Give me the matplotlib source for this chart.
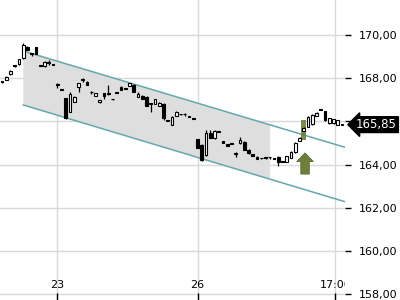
import matplotlib
matplotlib.use('Agg')
import matplotlib.pyplot as plt
from matplotlib.patches import Polygon, Rectangle, FancyArrow
import numpy as np

# candle data (one entry per interval)
opens = [167.82, 167.92, 168.18, 168.56, 168.64, 168.92, 169.46, 169.12, 169.43, 168.57,
         168.56, 168.72, 168.61, 167.69, 167.45, 167.07, 166.45, 166.91, 167.58, 167.92,
         167.84, 167.35, 167.18, 166.88, 167.30, 167.28, 167.02, 167.33, 167.61, 167.51,
         167.64, 167.69, 167.14, 167.18, 167.14, 166.81, 166.81, 166.73, 166.81, 166.03,
         165.83, 166.25, 166.33, 166.33, 166.22, 166.11, 165.17, 164.91, 164.44, 165.45,
         165.22, 165.52, 165.09, 164.95, 164.95, 164.48, 164.99, 165.06, 164.68, 164.49,
         164.37, 164.29, 164.32, 164.33, 164.26, 164.37, 164.13, 164.13, 164.32, 164.57,
         165.09, 165.57, 165.75, 165.87, 166.25, 166.53, 166.48, 165.91, 165.91, 165.83,
         165.85]
closes = [167.82, 168.06, 168.35, 168.56, 168.88, 169.54, 169.32, 169.12, 169.13, 168.57,
          168.76, 168.72, 168.61, 167.69, 167.45, 166.14, 167.27, 167.14, 167.76, 167.92,
          167.69, 167.35, 167.30, 166.99, 167.18, 167.28, 167.02, 167.33, 167.45, 167.51,
          167.76, 167.38, 167.25, 167.04, 166.73, 166.81, 167.02, 166.87, 166.14, 166.03,
          166.22, 166.45, 166.33, 166.33, 166.22, 166.11, 164.78, 164.21, 165.45, 165.25,
          165.57, 165.52, 165.01, 164.88, 164.95, 164.55, 165.14, 164.68, 164.52, 164.40,
          164.26, 164.29, 164.32, 164.33, 164.26, 164.13, 164.13, 164.40, 164.60, 165.01,
          165.25, 165.71, 166.22, 166.30, 166.40, 166.53, 166.06, 166.14, 166.10, 166.06,
          165.85]
highs = [167.84, 168.08, 168.37, 168.58, 168.90, 169.64, 169.48, 169.13, 169.45, 168.59,
         168.78, 168.84, 168.63, 167.76, 167.52, 167.09, 167.38, 167.16, 167.78, 168.00,
         167.86, 167.41, 167.32, 167.00, 167.32, 167.69, 167.04, 167.35, 167.63, 167.53,
         167.78, 167.71, 167.35, 167.20, 167.16, 166.84, 167.04, 166.89, 166.83, 166.05,
         166.24, 166.47, 166.35, 166.40, 166.24, 166.13, 165.19, 164.93, 165.60, 165.60,
         165.60, 165.54, 165.11, 164.97, 164.97, 164.57, 165.26, 165.08, 164.70, 164.51,
         164.39, 164.31, 164.34, 164.35, 164.28, 164.39, 164.15, 164.42, 164.62, 165.03,
         165.27, 165.75, 166.24, 166.32, 166.42, 166.55, 166.50, 166.16, 166.12, 166.08,
         165.87]
lows = [167.80, 167.90, 168.16, 168.54, 168.62, 168.90, 169.30, 169.03, 169.11, 168.55,
        168.54, 168.61, 168.59, 167.55, 167.45, 166.12, 166.43, 166.89, 167.38, 167.84,
        167.67, 167.25, 167.16, 166.86, 167.04, 167.22, 167.00, 167.31, 167.43, 167.49,
        167.62, 167.36, 167.12, 167.02, 166.71, 166.45, 166.79, 166.71, 166.05, 166.01,
        165.81, 166.23, 166.31, 166.26, 166.20, 166.09, 164.76, 164.15, 164.42, 165.23,
        165.20, 165.50, 164.99, 164.86, 164.93, 164.34, 164.97, 164.66, 164.50, 164.38,
        164.24, 164.27, 164.26, 164.27, 164.24, 163.94, 164.11, 164.11, 164.30, 164.55,
        165.07, 165.55, 165.73, 165.85, 166.23, 166.51, 166.04, 165.89, 165.89, 165.81,
        165.83]

# trend channel
chan_x = [5.0, 80.7]
chan_upper = [169.26, 164.80]
chan_lower = [166.76, 162.28]
shade_end = 63.1

# signal candle and arrow
signal_idx = 71
signal_top = 166.06
signal_bottom = 165.14
arrow_base = 163.56
arrow_tip = 164.54

last_price = 165.85
x_tick_pos = [13, 46, 78.4]
x_tick_labels = ['23', '26', '17:00']
y_ticks = [158, 160, 162, 164, 166, 168, 170]
# 166 label sits under the last price marker
y_tick_labels = ['158,00', '160,00', '162,00', '164,00', '', '168,00', '170,00']

fig = plt.figure(figsize=(4, 3), dpi=100)
ax = fig.add_axes([0, 0, 0.8625, 1.0])
ax.set_xlim(-0.47, 80.7)
ax.set_ylim(157.73, 171.62)

grid_col = '#d9d9d9'
for y in y_ticks:
    ax.axhline(y, color=grid_col, lw=1, zorder=0)
for x in x_tick_pos:
    ax.axvline(x, color=grid_col, lw=1, zorder=0)

# channel shade and lines
def chan_at(x, ys):
    return np.interp(x, chan_x, ys)

sx = [chan_x[0], shade_end, shade_end, chan_x[0]]
sy = [chan_upper[0], chan_at(shade_end, chan_upper), chan_at(shade_end, chan_lower), chan_lower[0]]
ax.add_patch(Polygon(list(zip(sx, sy)), closed=True, facecolor='#dedede', edgecolor='none', zorder=1))
ax.plot(chan_x, chan_upper, color='#63a8ab', lw=1.1, zorder=2)
ax.plot(chan_x, chan_lower, color='#63a8ab', lw=1.1, zorder=2)

olive = '#6e7f3c'
ax.add_patch(Rectangle((signal_idx - 0.6, signal_bottom), 1.2, signal_top - signal_bottom,
                       facecolor=olive, edgecolor='none', alpha=0.9, zorder=2))
ax.add_patch(FancyArrow(signal_idx + 0.3, arrow_base, 0, arrow_tip - arrow_base,
                        width=2.0, head_width=3.9, head_length=0.4,
                        length_includes_head=True, facecolor=olive, edgecolor='#5c6b30',
                        lw=0.6, zorder=3))

# candles
idx = np.arange(len(opens))
o = np.array(opens)
c = np.array(closes)
ax.vlines(idx, lows, highs, color='black', lw=0.9, zorder=4)
bottom = np.minimum(o, c)
height = np.maximum(np.abs(c - o), 0.03)
colors = ['white' if cc > oo else 'black' for oo, cc in zip(o, c)]
ax.bar(idx, height, bottom=bottom, width=0.66, color=colors, edgecolor='black',
       linewidth=0.8, zorder=5)

# axes styling
for s in ax.spines.values():
    s.set_visible(False)
ax.yaxis.tick_right()
ax.set_yticks(y_ticks)
ax.set_yticklabels(y_tick_labels)
ax.tick_params(axis='y', direction='out', length=4, width=1, color='black',
               labelsize=8, pad=6)
ax.set_xticks(x_tick_pos)
ax.set_xticklabels([])
ax.tick_params(axis='x', direction='in', length=5, width=1, color='black')
for x, lab in zip(x_tick_pos, x_tick_labels):
    ax.text(x, 0.035, lab, transform=ax.get_xaxis_transform(), ha='center', va='bottom',
            fontsize=8, clip_on=True)

# last price marker
ax.annotate(f'{last_price:.2f}'.replace('.', ','), xy=(1.0, last_price),
            xycoords=('axes fraction', 'data'), xytext=(8, 0), textcoords='offset points',
            ha='left', va='center', fontsize=8.5, color='white', annotation_clip=False,
            bbox=dict(boxstyle='larrow,pad=0.12', fc='black', ec='black'), zorder=10)

fig.savefig('out.png', dpi=100)
